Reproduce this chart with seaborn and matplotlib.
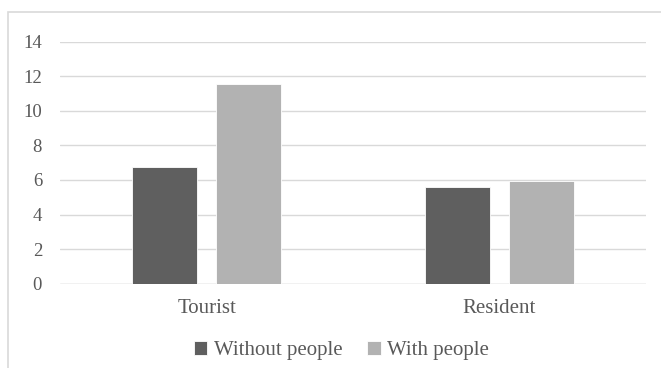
import matplotlib
matplotlib.use('Agg')
import matplotlib.pyplot as plt
import pandas as pd
import seaborn as sns
from matplotlib.patches import Rectangle

# Chart values
groups = ['Tourist', 'Resident']
series = ['Without people', 'With people']
without_people = [6.75, 5.6]
with_people = [11.55, 5.95]
y_ticks = [0, 2, 4, 6, 8, 10, 12, 14]

colors = ['#5f5f5f', '#b2b2b2']
text_color = '#595959'
grid_color = '#d9d9d9'

df = pd.DataFrame({
    'group': groups * 2,
    'series': [series[0]] * 2 + [series[1]] * 2,
    'value': without_people + with_people,
})

sns.set_theme(style='white')
plt.rcParams['font.family'] = ['Liberation Serif', 'DejaVu Serif']

fig = plt.figure(figsize=(6.61, 3.68), dpi=100)
ax = fig.add_axes([0.091, 0.229, 0.886, 0.658])

sns.barplot(data=df, x='group', y='value', hue='series', order=groups,
            hue_order=series, palette=colors, width=0.571, gap=0.219,
            edgecolor='white', linewidth=0.6, saturation=1, ax=ax, zorder=3)

ax.set_ylim(0, 14)
ax.set_yticks(y_ticks)
ax.set_xlim(-0.5, 1.5)
ax.yaxis.grid(True, color=grid_color, linewidth=1.0, zorder=0)
ax.set_axisbelow(True)
for side in ['top', 'right', 'left', 'bottom']:
    ax.spines[side].set_visible(False)
ax.axhline(0, color=grid_color, linewidth=1.0, zorder=1)
ax.set_xlabel('')
ax.set_ylabel('')
ax.tick_params(axis='y', labelsize=13.5, colors=text_color, length=0, pad=13)
ax.tick_params(axis='x', labelsize=15, colors=text_color, length=0, pad=11)

leg = ax.legend(loc='upper center', bbox_to_anchor=(0.48, -0.158), ncol=2,
                frameon=False, fontsize=15, handlelength=0.65, handleheight=0.65,
                handletextpad=0.3, columnspacing=1.2, labelcolor=text_color)

# light chart frame like the office chart area
fig.patches.append(Rectangle((8 / 661, -0.01), 0.995, 1 - 12 / 368 + 0.01,
                             transform=fig.transFigure, fill=False,
                             edgecolor=grid_color, linewidth=1.2))

fig.savefig('out.png', dpi=100)
plt.close(fig)
